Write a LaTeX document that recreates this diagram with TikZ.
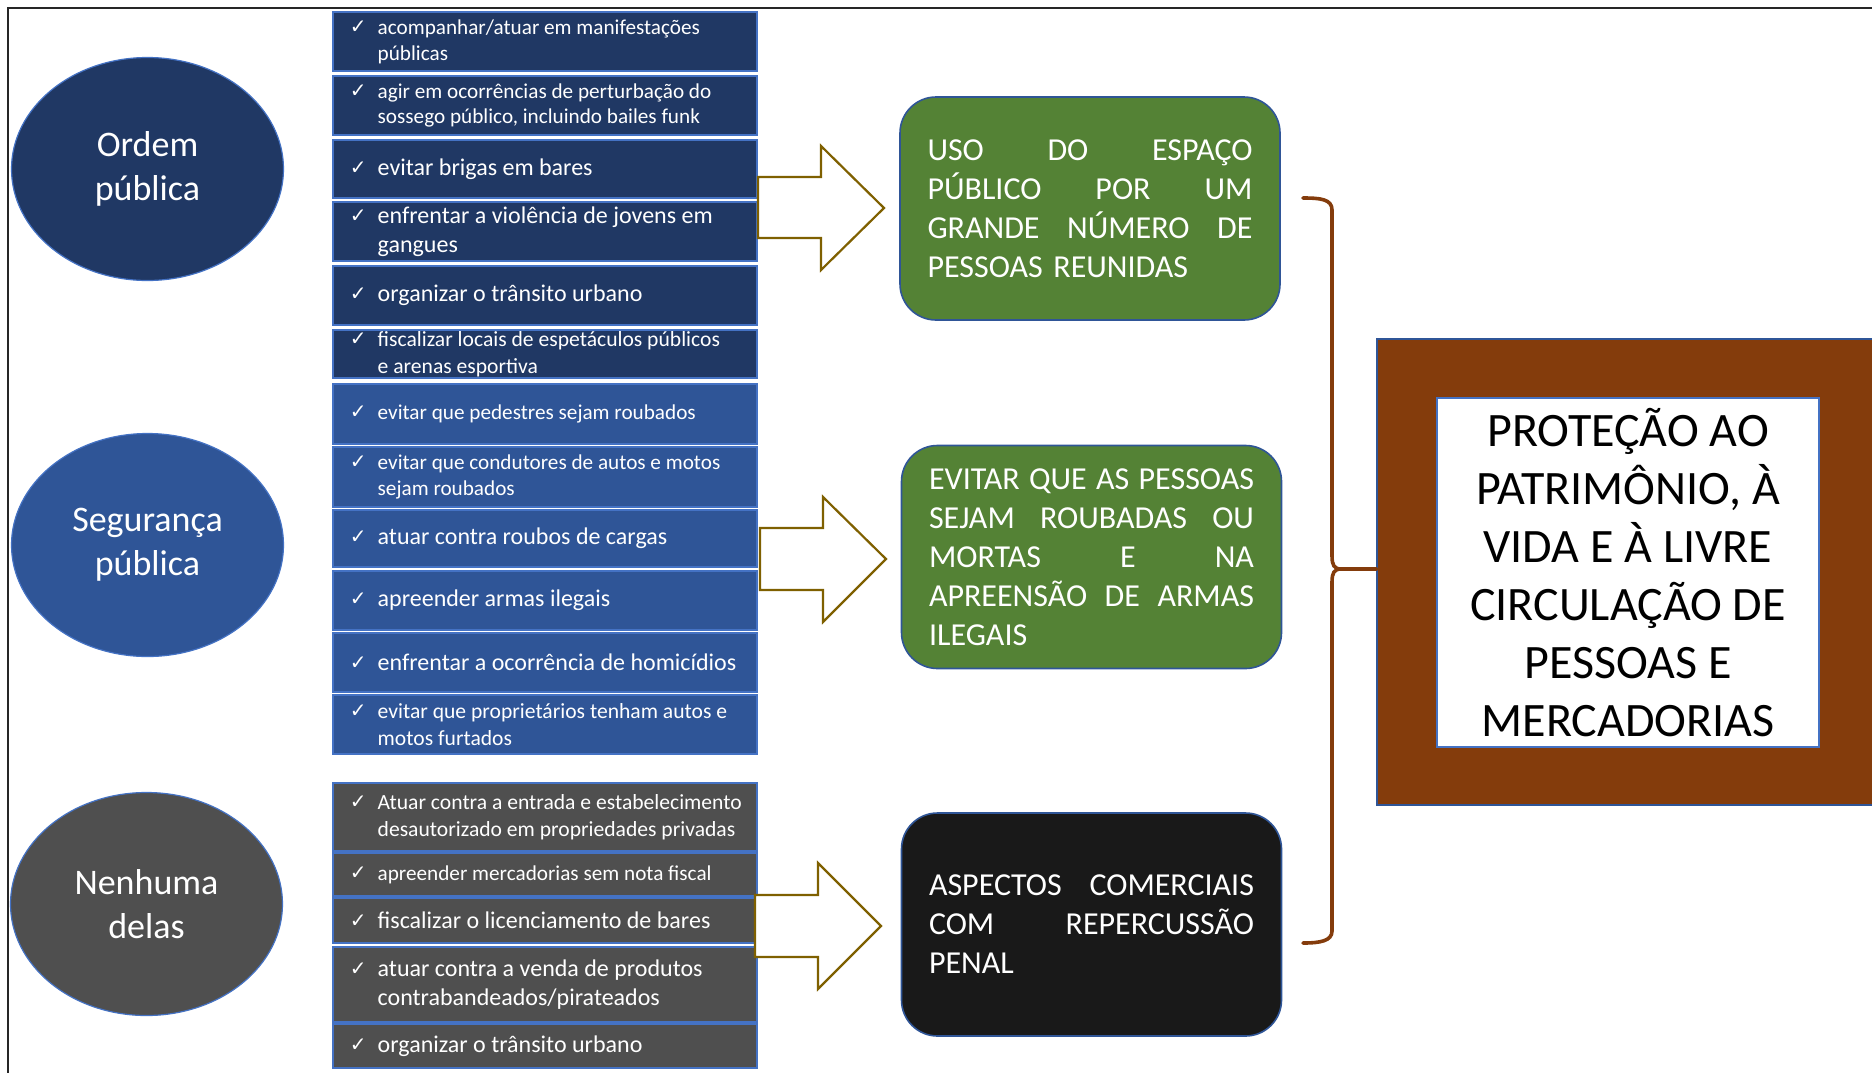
\documentclass[tikz,border=0pt]{standalone}
\usepackage{fontspec}
\setmainfont{Carlito}
\newfontfamily\dejavu{DejaVu Sans}
\usetikzlibrary{shapes.geometric,calc}
\definecolor{navy}{HTML}{203864}
\definecolor{bluebox}{HTML}{2F5597}
\definecolor{graybox}{HTML}{4F4F4F}
\definecolor{edgeblue}{HTML}{4472C4}
\definecolor{greenbox}{HTML}{548235}
\definecolor{blackbox}{HTML}{191919}
\definecolor{bracebrown}{HTML}{843C0C}
\definecolor{arrowolive}{HTML}{7F6000}
\newcommand{\chk}{\llap{\raisebox{0.4pt}{\dejavu\fontsize{10}{10}\selectfont ✓}\hspace{5.5pt}}}
\newcommand{\lbox}[6]{%
  \node[listbox, #2, minimum height={(#4-#3)*0.5pt}] (#1) at (545,{(#3+#4)/2}) {};
  \node[listtxt, #5, anchor=west] (#1t) at ([xshift=22.5pt]#1.west) {\chk #6};
}
\tikzset{
  listbox/.style={rectangle, draw=edgeblue, line width=0.7pt, minimum width=212pt, inner sep=0pt},
  listtxt/.style={text=white, inner sep=0pt, align=left},
  fsS/.style={font=\fontsize{10.6}{12.9}\selectfont},
  fsM/.style={font=\fontsize{10.8}{13.4}\selectfont},
  fsL/.style={font=\fontsize{12}{14.5}\selectfont},
  circ/.style={ellipse, draw=edgeblue, line width=0.6pt, minimum width=136pt, minimum height=111.5pt,
    inner sep=0pt, text=white, align=center, font=\fontsize{18}{22}\selectfont},
  gbox/.style={rectangle, rounded corners=18pt, draw=bluebox, line width=0.8pt, minimum width=190pt,
    minimum height=111.5pt, text=white, font=\fontsize{16}{19.5}\selectfont, align=left,
    text width=162.5pt, inner sep=0pt},
  blockarrow/.style={draw=arrowolive, fill=white, line width=1.1pt, line join=miter},
  bracepath/.style={draw=bracebrown, line width=1.8pt, line cap=round}
}
\begin{document}
\begin{tikzpicture}[x=0.5pt, y=-0.5pt]
\useasboundingbox (0,0) rectangle (1872,1072);
\fill[white] (0,0) rectangle (1872,1072);
% frame
\draw[line width=1.1pt, black!85] (1880,8) -- (8,8) -- (8,1080);

% circles
\node[circ, fill=navy] (op) at (147.5,169) {Ordem\\pública};
\node[circ, fill=bluebox] (sp) at (147.5,545) {Segurança\\pública};
\node[circ, fill=graybox] (nd) at (146.5,904) {Nenhuma\\delas};

% group 1
\lbox{a1}{fill=navy}{12}{71}{fsS}{acompanhar/atuar em manifestações\\públicas}
\lbox{a2}{fill=navy}{76}{135}{fsS}{agir em ocorrências de perturbação do\\sossego público, incluindo bailes funk}
\lbox{a3}{fill=navy}{140}{198}{fsL}{evitar brigas em bares}
\lbox{a4}{fill=navy}{202}{261}{fsL}{enfrentar a violência de jovens em\\gangues}
\lbox{a5}{fill=navy}{266}{325}{fsL}{organizar o trânsito urbano}
\lbox{a6}{fill=navy}{330}{378}{fsM}{fiscalizar locais de espetáculos públicos\\e arenas esportiva}
% group 2
\lbox{b1}{fill=bluebox}{384}{444}{fsS}{evitar que pedestres sejam roubados}
\lbox{b2}{fill=bluebox}{447}{507}{fsS}{evitar que condutores de autos e motos\\sejam roubados}
\lbox{b3}{fill=bluebox}{510}{567}{fsL}{atuar contra roubos de cargas}
\lbox{b4}{fill=bluebox}{571}{630}{fsL}{apreender armas ilegais}
\lbox{b5}{fill=bluebox}{633}{692}{fsL}{enfrentar a ocorrência de homicídios}
\lbox{b6}{fill=bluebox}{695}{754}{fsM}{evitar que proprietários tenham autos e\\motos furtados}
% group 3
\lbox{c1}{fill=graybox}{783}{851}{fsM}{Atuar contra a entrada e estabelecimento\\desautorizado em propriedades privadas}
\lbox{c2}{fill=graybox}{853}{896}{fsS}{apreender mercadorias sem nota fiscal}
\lbox{c3}{fill=graybox}{898}{943}{fsL}{fiscalizar o licenciamento de bares}
\lbox{c4}{fill=graybox}{947}{1022}{fsL}{atuar contra a venda de produtos\\contrabandeados/pirateados}
\lbox{c5}{fill=graybox}{1024}{1068}{fsL}{organizar o trânsito urbano}

% block arrows
\draw[blockarrow] (758,177) -- (821,177) -- (821,146) -- (884,208) -- (821,270) -- (821,238) -- (758,238) -- cycle;
\draw[blockarrow] (760,528) -- (823,528) -- (823,497) -- (886,559) -- (823,622) -- (823,590) -- (760,590) -- cycle;
\draw[blockarrow] (755,895) -- (818,895) -- (818,863) -- (881,926) -- (818,989) -- (818,957) -- (755,957) -- cycle;

% result boxes
\node[gbox, fill=greenbox] (g1) at (1090,208.5) {%
\makebox[162.5pt]{USO\hfill DO\hfill ESPAÇO}\\\makebox[162.5pt]{PÚBLICO\hfill POR\hfill UM}\\\makebox[162.5pt]{GRANDE\hfill NÚMERO\hfill DE}\\PESSOAS REUNIDAS};
\node[gbox, fill=greenbox] (g2) at (1091.5,557) {%
\makebox[162.5pt]{EVITAR\hfill QUE\hfill AS\hfill PESSOAS}\\\makebox[162.5pt]{SEJAM\hfill ROUBADAS\hfill OU}\\\makebox[162.5pt]{MORTAS\hfill E\hfill NA}\\\makebox[162.5pt]{APREENSÃO\hfill DE\hfill ARMAS}\\ILEGAIS};
\node[gbox, fill=blackbox] (g3) at (1091.5,924.5) {%
\makebox[162.5pt]{ASPECTOS\hfill COMERCIAIS}\\\makebox[162.5pt]{COM\hfill REPERCUSSÃO}\\PENAL};

% big box
\node[rectangle, fill=bracebrown, draw=bluebox, line width=0.8pt, minimum width=251.5pt, minimum height=233pt, inner sep=0pt] (big) at (1628.5,572) {};
\node[rectangle, fill=white, draw=edgeblue, line width=0.8pt, minimum width=191pt, minimum height=174.5pt, inner sep=0pt, align=center, font=\fontsize{24}{29}\selectfont] (inner) at (1628,572.5) {PROTEÇÃO AO\\PATRIMÔNIO, À\\VIDA E À LIVRE\\CIRCULAÇÃO DE\\PESSOAS E\\MERCADORIAS};

% brace
\coordinate (btop) at (1303,198);
\coordinate (cusp) at (1341,569);
\coordinate (bbot) at (1303,943);
\draw[bracepath] (btop) .. controls (1320,198) and (1332,199) .. (1332,210) -- (1332,556)
  .. controls (1332,565) and (1334,569) .. (cusp)
  .. controls (1334,569) and (1332,573) .. (1332,582) -- (1332,931)
  .. controls (1332,941) and (1320,943) .. (bbot);
\draw[bracepath] (cusp) -- (cusp -| big.west);
\end{tikzpicture}
\end{document}
